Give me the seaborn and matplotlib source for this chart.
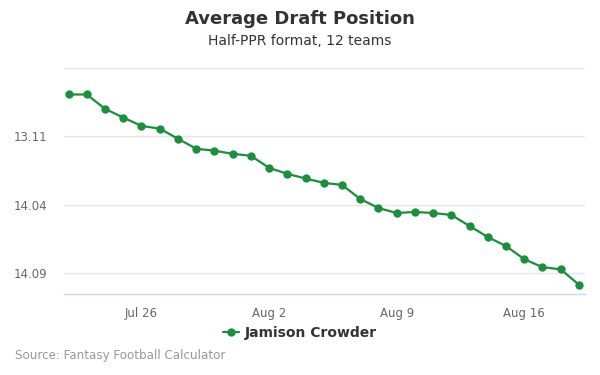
import pandas as pd
import matplotlib.pyplot as plt
import matplotlib.dates as mdates
import seaborn as sns

# ADP data (overall pick number), one point per day
dates = pd.date_range("2019-07-22", "2019-08-19", freq="D")
adp = [151.94, 151.94, 152.99, 153.63, 154.24, 154.44, 155.18, 155.91, 156.06, 156.28,
       156.43, 157.31, 157.75, 158.09, 158.41, 158.56, 159.59, 160.25, 160.62, 160.54,
       160.62, 160.76, 161.57, 162.38, 163.04, 164.00, 164.59, 164.74, 165.87]
player = "Jamison Crowder"
y_ticks = [150, 155, 160, 165]
x_ticks = ["2019-07-26", "2019-08-02", "2019-08-09", "2019-08-16"]

df = pd.DataFrame({"date": dates, "adp": adp, "player": player})

sns.set_style("white")
fig = plt.figure(figsize=(6, 3.75), dpi=100)
ax = fig.add_axes([64 / 600, 1 - 294 / 375, 521 / 600, 226 / 375])

green = "#1a8f3c"
sns.lineplot(data=df, x="date", y="adp", hue="player", palette=[green], marker="o",
             markersize=6, markeredgewidth=0, linewidth=1.6, ax=ax, legend=False)

# y axis: lower pick is better, shown on top
ax.set_ylim(166.55, 150)
ax.set_xlim(pd.Timestamp("2019-07-21 18:00"), pd.Timestamp("2019-08-19 08:00"))


def pick_label(p):
    r = (p - 1) // 12 + 1
    k = (p - 1) % 12 + 1
    return f"{r}.{k:02d}"


ax.set_yticks(y_ticks)
ax.set_yticklabels([""] + [pick_label(p) for p in y_ticks[1:]])
ax.set_xticks([pd.Timestamp(d) for d in x_ticks])
ax.xaxis.set_major_formatter(mdates.DateFormatter("%b %-d"))

ax.grid(axis="y", color="#e6e6e6", linewidth=1)
ax.set_axisbelow(True)
for s in ["top", "right", "left"]:
    ax.spines[s].set_visible(False)
ax.spines["bottom"].set_color("#ccd6eb")
ax.spines["bottom"].set_linewidth(1)
ax.tick_params(axis="x", colors="#ccd6eb", length=7.5, width=1, labelcolor="#666666",
               labelsize=8.5, pad=1.5)
ax.tick_params(axis="y", length=0, labelcolor="#666666", labelsize=8.5, pad=12)
ax.set_xlabel("")
ax.set_ylabel("")

fig.text(0.5, 1 - 19 / 375, "Average Draft Position", ha="center", va="center",
         fontsize=13, fontweight="bold", color="#333333")
fig.text(0.5, 1 - 41 / 375, "Half-PPR format, 12 teams", ha="center", va="center",
         fontsize=10, color="#333333")

handle = plt.Line2D([], [], color=green, marker="o", markersize=6, linewidth=1.6,
                    markeredgewidth=0)
fig.legend([handle], [player], loc="center", bbox_to_anchor=(0.5, 1 - 333 / 375),
           frameon=False, handlelength=1.2, handletextpad=0.4,
           prop={"weight": "bold", "size": 10}, labelcolor="#333333")

fig.text(15 / 600, 1 - 356 / 375, "Source: Fantasy Football Calculator", ha="left",
         va="center", fontsize=8.6, color="#999999")

fig.savefig("out.png", dpi=100)
